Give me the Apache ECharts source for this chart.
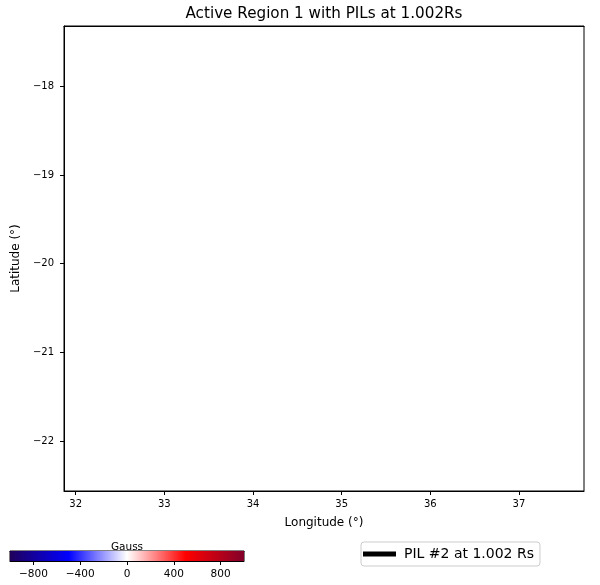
<!DOCTYPE html>
<html>
<head>
<meta charset="utf-8">
<script src="https://cdn.jsdelivr.net/npm/echarts@6/dist/echarts.min.js"></script>
<style>
html,body{margin:0;padding:0;background:#fff;}
#chart{width:600px;height:585px;}
</style>
</head>
<body>
<div id="chart"></div>
<script>
// ---- data ----
const titleText = 'Active Region 1 with PILs at 1.002Rs';
const lonRange = [31.868, 37.734];
const latRange = [-22.563, -17.321];
const lonTicks = [32, 33, 34, 35, 36, 37];
const latTicks = [-22, -21, -20, -19, -18];
const pilName = 'PIL #2 at 1.002 Rs';
const pilPoints = [];            // no PIL points visible in this view
const cbarRange = [-1000, 1000];
const cbarTicks = [-800, -400, 0, 400, 800];
const cbarColors = ['#20005a', '#0000ff', '#ffffff', '#ff0000', '#82002a'];

const FONT = 'DejaVu Sans';
const minus = v => String(v).replace('-', '\u2212');

const chart = echarts.init(document.getElementById('chart'), null, {renderer: 'canvas'});

const stops = cbarColors.map((c, i) => ({offset: i / (cbarColors.length - 1), color: c}));

const option = {
  animation: false,
  backgroundColor: '#fff',
  textStyle: {fontFamily: FONT, color: '#000'},
  grid: [
    {left: 64, top: 26, width: 520, height: 465, show: true, borderColor: '#000', borderWidth: 1, containLabel: false},
    {left: 10, top: 551, width: 234, height: 10, show: true, borderColor: '#000', borderWidth: 1, containLabel: false}
  ],
  legend: {
    data: [pilName],
    left: 361, top: 542,
    orient: 'horizontal',
    icon: 'rect',
    itemWidth: 33, itemHeight: 5,
    padding: [5, 6, 5, 2],
    borderColor: '#cccccc', borderWidth: 1, borderRadius: 3,
    backgroundColor: '#fff',
    textStyle: {fontFamily: FONT, fontSize: 14, color: '#000', padding: [0, 0, 0, 3]},
    itemStyle: {color: '#000'}
  },
  xAxis: [
    {
      gridIndex: 0, type: 'value', position: 'bottom',
      min: lonRange[0], max: lonRange[1],
      name: 'Longitude (\u00b0)', nameLocation: 'middle', nameGap: 26,
      nameTextStyle: {fontFamily: FONT, fontSize: 12, color: '#000'},
      axisLine: {show: true, onZero: false, lineStyle: {color: '#000', width: 1}},
      axisTick: {show: true, customValues: lonTicks, length: 4, lineStyle: {color: '#000'}},
      axisLabel: {show: true, customValues: lonTicks, formatter: minus, fontFamily: FONT, fontSize: 10, color: '#000', margin: 8},
      splitLine: {show: false}
    },
    {
      gridIndex: 0, type: 'value', position: 'top',
      min: lonRange[0], max: lonRange[1],
      name: titleText, nameLocation: 'middle', nameGap: 4,
      nameTextStyle: {fontFamily: FONT, fontSize: 15.2, color: '#000'},
      axisLine: {show: true, onZero: false, lineStyle: {color: '#000', width: 1}},
      axisTick: {show: false}, axisLabel: {show: false}, splitLine: {show: false}
    },
    {
      gridIndex: 1, type: 'value', position: 'bottom',
      min: cbarRange[0], max: cbarRange[1],
      axisLine: {show: true, onZero: false, lineStyle: {color: '#000', width: 1}},
      axisTick: {show: true, customValues: cbarTicks, length: 4, lineStyle: {color: '#000'}},
      axisLabel: {show: true, customValues: cbarTicks, formatter: minus, fontFamily: FONT, fontSize: 10.5, color: '#000', margin: 8},
      splitLine: {show: false}
    },
    {
      gridIndex: 1, type: 'value', position: 'top',
      min: cbarRange[0], max: cbarRange[1],
      name: 'Gauss', nameLocation: 'middle', nameGap: -2,
      nameTextStyle: {fontFamily: FONT, fontSize: 10.5, color: '#000'},
      axisLine: {show: true, onZero: false, lineStyle: {color: '#000', width: 1}},
      axisTick: {show: false}, axisLabel: {show: false}, splitLine: {show: false}
    }
  ],
  yAxis: [
    {
      gridIndex: 0, type: 'value', position: 'left',
      min: latRange[0], max: latRange[1],
      name: 'Latitude (\u00b0)', nameLocation: 'middle', nameGap: 36, nameRotate: 90,
      nameTextStyle: {fontFamily: FONT, fontSize: 12, color: '#000'},
      axisLine: {show: true, onZero: false, lineStyle: {color: '#000', width: 1}},
      axisTick: {show: true, customValues: latTicks, length: 4, lineStyle: {color: '#000'}},
      axisLabel: {show: true, customValues: latTicks, formatter: minus, fontFamily: FONT, fontSize: 10, color: '#000', margin: 10},
      splitLine: {show: false}
    },
    {
      gridIndex: 1, type: 'value', min: 0, max: 1, show: false
    }
  ],
  series: [
    {
      name: pilName, type: 'line', xAxisIndex: 0, yAxisIndex: 0,
      data: pilPoints, showSymbol: false,
      lineStyle: {color: '#000', width: 5}, itemStyle: {color: '#000'}
    },
    {
      name: 'colorbar', type: 'custom', xAxisIndex: 2, yAxisIndex: 1,
      data: [[cbarRange[0], cbarRange[1]]],
      silent: true,
      renderItem: function (params, api) {
        const p0 = api.coord([api.value(0), 1]);
        const p1 = api.coord([api.value(1), 0]);
        return {
          type: 'rect',
          shape: {x: p0[0], y: p0[1], width: p1[0] - p0[0], height: p1[1] - p0[1]},
          style: {fill: new echarts.graphic.LinearGradient(0, 0, 1, 0, stops)},
          z2: -1
        };
      }
    }
  ]
};
chart.setOption(option);
</script>
</body>
</html>
